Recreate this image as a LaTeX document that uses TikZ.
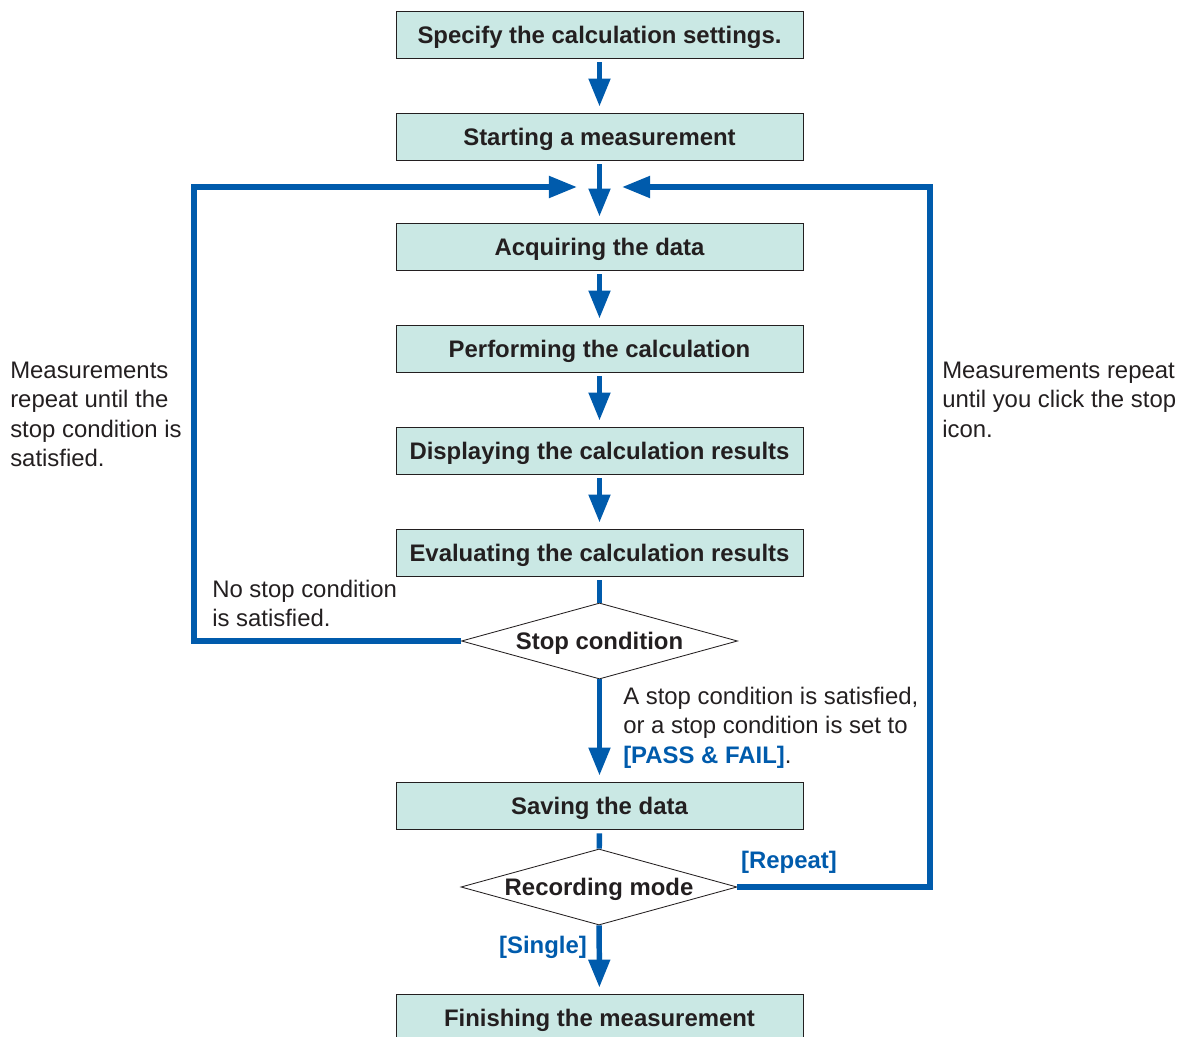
\documentclass[tikz,border=0pt]{standalone}
\usepackage{fontspec}
\setmainfont{Liberation Sans}
\usetikzlibrary{arrows.meta,positioning,shapes.geometric,calc}
\definecolor{flowblue}{RGB}{0,91,172}
\definecolor{stepfill}{RGB}{202,232,228}
\definecolor{inkgray}{RGB}{35,31,32}

\begin{document}
\begin{tikzpicture}[
    x=0.025cm, y=-0.025cm,
    font=\fontsize{17}{20.8}\selectfont,
    every node/.style={text=inkgray},
    box/.style={draw=inkgray, line width=0.6pt, fill=stepfill, minimum width=10.175cm, minimum height=1.175cm, inner sep=0pt, text depth=0pt, font=\fontsize{17}{20.8}\selectfont\bfseries},
    decision/.style={diamond, draw=inkgray, line width=0.6pt, fill=white, aspect=3.6, inner sep=0pt, text depth=0pt, minimum width=6.9cm, minimum height=1.9cm, font=\fontsize{17}{20.8}\selectfont\bfseries},
    note/.style={align=left, inner sep=0pt, anchor=north west},
    tag/.style={font=\fontsize{17}{20.8}\selectfont\bfseries, text=flowblue, inner sep=0pt},
    flow/.style={line width=3.9pt, draw=flowblue},
    tip/.style={-{Triangle[length=0.7cm, width=0.52cm]}},
    arr/.style={flow, tip, shorten <=0.1cm, shorten >=0.15cm},
  ]
  \useasboundingbox (0,0) rectangle (1184,1037);

  % main steps
  \node[box] (spec) at (599.5,34.5) {Specify the calculation settings.};
  \node[box] (start) at (599.5,136.5) {Starting a measurement};
  \node[box] (acq) at (599.5,246.5) {Acquiring the data};
  \node[box] (calc) at (599.5,348.5) {Performing the calculation};
  \node[box] (disp) at (599.5,450.5) {Displaying the calculation results};
  \node[box] (eval) at (599.5,552.5) {Evaluating the calculation results};
  \node[decision] (stop) at (599.5,641) {Stop condition};
  \node[box] (save) at (599.5,805.5) {Saving the data};
  \node[decision] (rec) at (599,887) {Recording mode};
  \node[box] (fin) at (599.5,1017.5) {Finishing the measurement};

  \draw[arr] (spec) -- (start);
  \draw[arr] (start) -- (acq);
  \draw[arr] (acq) -- (calc);
  \draw[arr] (calc) -- (disp);
  \draw[arr] (disp) -- (eval);
  \draw[flow, shorten <=0.1cm] (eval) -- (stop);
  \draw[arr, shorten <=0pt] (stop) -- (save);
  \draw[flow, shorten <=0.1cm] (save) -- (rec);
  \draw[arr, shorten <=0pt] (rec) -- (fin);

  % loops back to the data
  \coordinate (loopL) at (194,187);
  \coordinate (loopR) at (930,187);
  \coordinate (joinL) at (577,187);
  \coordinate (joinR) at (622,187);
  \draw[flow, tip] (stop.west) -| (loopL) -- (joinL);
  \draw[flow, tip] (rec.east) -| (loopR) -- (joinR);

  % notes
  \node[note] (leftnote) at (10,362) {Measurements\\repeat until the\\stop condition is\\satisfied.};
  \node[note] (rightnote) at (942,362) {Measurements repeat\\until you click the stop\\icon.};
  \node[note] (nostop) at (212,580) {No stop condition\\is satisfied.};
  \node[note] (yesstop) at (623,687) {A stop condition is satisfied,\\or a stop condition is set to\\{\bfseries\color{flowblue}[PASS \& FAIL]}.};
  \node[tag] (repeat) at (789,862) {[Repeat]};
  \node[tag] (single) at (543,947) {[Single]};
\end{tikzpicture}
\end{document}
